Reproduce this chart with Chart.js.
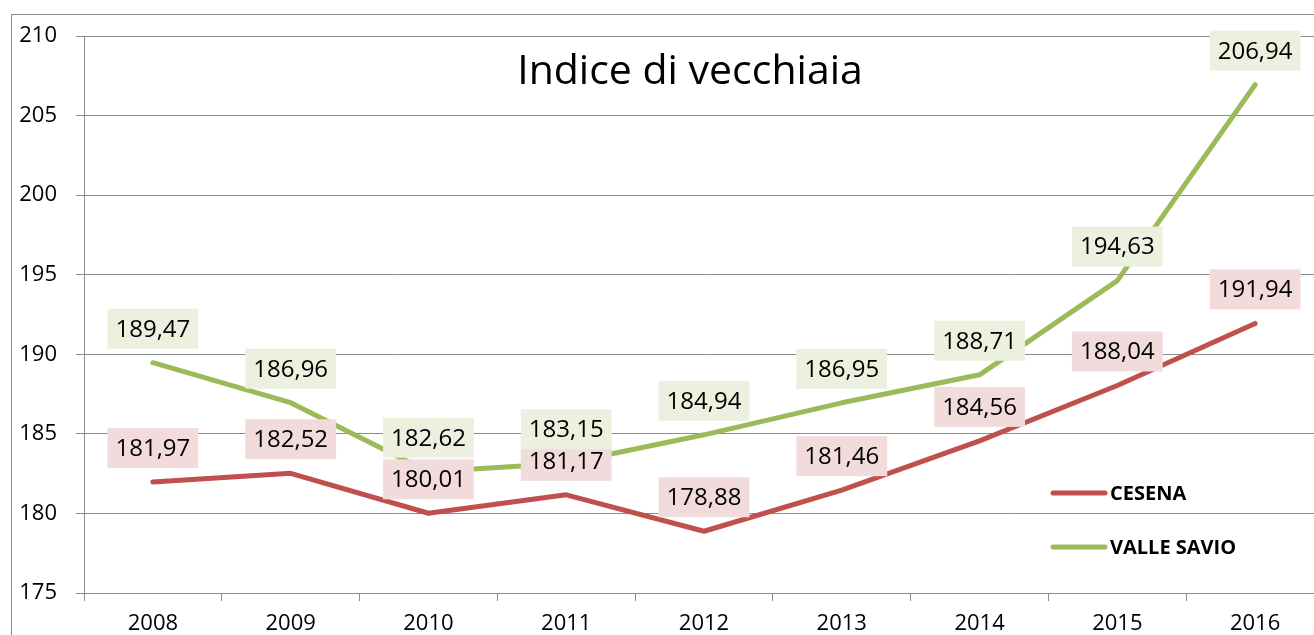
<!DOCTYPE html>
<html>
<head>
<meta charset="utf-8">
<script src="https://cdn.jsdelivr.net/npm/chart.js@4.4.1/dist/chart.umd.min.js"></script>
<style>
  html, body { margin: 0; padding: 0; background: #fff; overflow: hidden; }
  #wrap { width: 1324px; height: 635px; }
</style>
</head>
<body>
<div id="wrap"><canvas id="chart" width="1324" height="635"></canvas></div>
<script>
const years = ['2008', '2009', '2010', '2011', '2012', '2013', '2014', '2015', '2016'];
const cesena = [181.97, 182.52, 180.01, 181.17, 178.88, 181.46, 184.56, 188.04, 191.94];
const valleSavio = [189.47, 186.96, 182.62, 183.15, 184.94, 186.95, 188.71, 194.63, 206.94];
const yTicks = [175, 180, 185, 190, 195, 200, 205, 210];

const chartTitle = 'Indice di vecchiaia';
const fontFamily = '"Open Sans", "Noto Sans", sans-serif';
const axisGray = '#8c8c8c';

const labelBoxes = ['#f2dcdb', '#ebf1de'];

const formatValue = (v) => v.toFixed(2).replace('.', ',');

// border, title, data labels and the legend, drawn like the Excel original
const decorations = {
  id: 'decorations',
  beforeDraw(chart) {
    const ctx = chart.ctx;
    ctx.save();
    ctx.strokeStyle = axisGray;
    ctx.lineWidth = 1;
    ctx.strokeRect(11.5, 14.5, 2000, 2000);
    ctx.restore();
  },
  afterDatasetsDraw(chart) {
    const ctx = chart.ctx;
    ctx.save();
    ctx.font = `24px ${fontFamily}`;
    ctx.textAlign = 'center';
    ctx.textBaseline = 'middle';
    chart.data.datasets.forEach((ds, i) => {
      const meta = chart.getDatasetMeta(i);
      meta.data.forEach((pt, j) => {
        const text = formatValue(ds.data[j]);
        const w = ctx.measureText(text).width + 16;
        const h = 40;
        const cx = pt.x;
        const cy = pt.y - 34;
        ctx.fillStyle = labelBoxes[i];
        ctx.fillRect(cx - w / 2, cy - h / 2, w, h);
        ctx.fillStyle = '#000';
        ctx.fillText(text, cx, cy + 1);
      });
    });

    // title
    ctx.font = `41px ${fontFamily}`;
    ctx.fillStyle = '#000';
    ctx.fillText(chartTitle, 690, 72);

    // legend
    const legendRows = [493, 547];
    ctx.font = `bold 20px ${fontFamily}`;
    ctx.textAlign = 'left';
    chart.data.datasets.forEach((ds, i) => {
      const y = legendRows[i];
      ctx.strokeStyle = ds.borderColor;
      ctx.lineWidth = 5;
      ctx.lineCap = 'round';
      ctx.beginPath();
      ctx.moveTo(1053, y);
      ctx.lineTo(1105, y);
      ctx.stroke();
      ctx.fillStyle = '#000';
      ctx.fillText(ds.label, 1110, y + 1);
    });
    ctx.restore();
  },
};

new Chart(document.getElementById('chart'), {
  type: 'line',
  data: {
    labels: years,
    datasets: [
      {
        label: 'CESENA',
        data: cesena,
        borderColor: '#c0504d',
        borderWidth: 5,
        borderCapStyle: 'round',
        borderJoinStyle: 'round',
        tension: 0,
        pointRadius: 0,
      },
      {
        label: 'VALLE SAVIO',
        data: valleSavio,
        borderColor: '#9bbb59',
        borderWidth: 5,
        borderCapStyle: 'round',
        borderJoinStyle: 'round',
        tension: 0,
        pointRadius: 0,
      },
    ],
  },
  options: {
    responsive: false,
    animation: false,
    layout: { padding: { top: 36, left: 0, right: 0, bottom: 0 } },
    plugins: {
      legend: { display: false },
      tooltip: { enabled: false },
      title: { display: false },
    },
    scales: {
      x: {
        offset: true,
        grid: {
          offset: true,
          drawOnChartArea: false,
          drawTicks: true,
          tickLength: 8,
          color: axisGray,
        },
        border: { color: axisGray, width: 1 },
        ticks: {
          color: '#000',
          padding: 10,
          maxRotation: 0,
          font: { family: fontFamily, size: 22 },
        },
        afterFit(scale) { scale.height = 42; },
      },
      y: {
        min: yTicks[0],
        max: yTicks[yTicks.length - 1],
        afterBuildTicks(scale) {
          scale.ticks = yTicks.map((v) => ({ value: v }));
        },
        grid: {
          color: axisGray,
          tickLength: 8,
        },
        border: { color: axisGray, width: 1 },
        ticks: {
          color: '#000',
          padding: 19,
          font: { family: fontFamily, size: 22 },
        },
        afterFit(scale) { scale.width = 84; },
      },
    },
  },
  plugins: [decorations],
});
</script>
</body>
</html>
